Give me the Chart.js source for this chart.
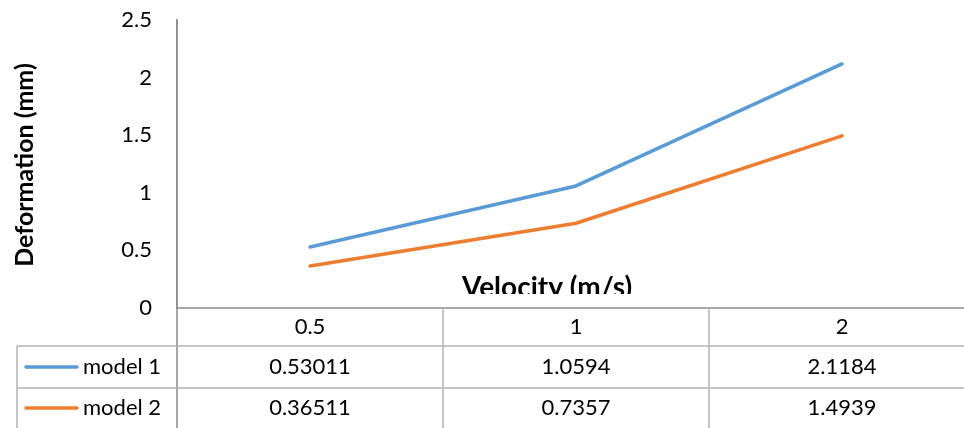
<!DOCTYPE html>
<html>
<head>
<meta charset="utf-8">
<script src="https://cdn.jsdelivr.net/npm/chart.js@4"></script>
<style>
  html, body { margin: 0; padding: 0; background: #fff; }
  #wrap { width: 964px; height: 428px; }
</style>
</head>
<body>
<div id="wrap"><canvas id="chart"></canvas></div>
<script>
// data
const velocities = ['0.5', '1', '2'];
const model1 = [0.53011, 1.0594, 2.1184];
const model2 = [0.36511, 0.7357, 1.4939];
const seriesNames = ['model 1', 'model 2'];
const yTicks = [0, 0.5, 1, 1.5, 2, 2.5];

const COLORS = { blue: '#5B9BD5', orange: '#ED7D31', axis: '#8C8C8C', grid: '#B4B4B4', text: '#000000' };
const FONT = 'Lato, "Open Sans", sans-serif';

// titles + data table below the plot, like Excel's "data table" option
const dataTable = {
  id: 'dataTable',
  afterDraw(chart) {
    const { ctx, chartArea, scales } = chart;
    const x = scales.x;
    const W = chart.width, H = chart.height;
    const top = chartArea.bottom;
    const rowH = [38, 42, 40];
    const r1 = top + rowH[0], r2 = r1 + rowH[1];
    const leftCol = 17;
    const cols = [x.getPixelForValue(-0.5), x.getPixelForValue(0.5), x.getPixelForValue(1.5)];

    ctx.save();

    // x axis title, cut off by the table like in the original
    ctx.save();
    ctx.beginPath();
    ctx.rect(0, 0, W, top - 14);
    ctx.clip();
    ctx.font = 'bold 28px ' + FONT;
    ctx.fillStyle = COLORS.text;
    ctx.textAlign = 'center';
    ctx.textBaseline = 'alphabetic';
    ctx.fillText('Velocity (m/s)', 547, top - 11);
    ctx.restore();

    // y axis title
    ctx.save();
    ctx.translate(33, 165);
    ctx.rotate(-Math.PI / 2);
    ctx.font = 'bold 25px ' + FONT;
    ctx.fillStyle = COLORS.text;
    ctx.textAlign = 'center';
    ctx.textBaseline = 'alphabetic';
    ctx.fillText('Deformation (mm)', 0, 0);
    ctx.restore();

    // table lines
    ctx.lineWidth = 1.5;
    ctx.strokeStyle = COLORS.axis;
    ctx.beginPath();
    ctx.moveTo(cols[0], top); ctx.lineTo(W, top);
    ctx.moveTo(cols[0], chartArea.top); ctx.lineTo(cols[0], H);
    ctx.stroke();

    ctx.strokeStyle = COLORS.grid;
    ctx.beginPath();
    ctx.moveTo(leftCol, r1); ctx.lineTo(W, r1);
    ctx.moveTo(leftCol, r2); ctx.lineTo(W, r2);
    ctx.moveTo(leftCol, r1); ctx.lineTo(leftCol, H);
    ctx.moveTo(cols[1], top); ctx.lineTo(cols[1], H);
    ctx.moveTo(cols[2], top); ctx.lineTo(cols[2], H);
    ctx.stroke();

    // cells
    ctx.font = '22px ' + FONT;
    ctx.fillStyle = COLORS.text;
    ctx.textBaseline = 'middle';
    ctx.textAlign = 'center';
    const rowMid = [top + rowH[0] / 2, r1 + rowH[1] / 2, r2 + rowH[2] / 2];
    velocities.forEach((v, i) => ctx.fillText(v, x.getPixelForValue(i), rowMid[0]));
    [model1, model2].forEach((vals, r) => {
      vals.forEach((v, i) => ctx.fillText(String(v), x.getPixelForValue(i), rowMid[r + 1]));
    });

    // legend keys in the first column
    chart.data.datasets.forEach((ds, r) => {
      const y = rowMid[r + 1];
      ctx.strokeStyle = ds.borderColor;
      ctx.lineWidth = 3.5;
      ctx.lineCap = 'round';
      ctx.beginPath();
      ctx.moveTo(26, y); ctx.lineTo(77, y);
      ctx.stroke();
      ctx.textAlign = 'left';
      ctx.fillText(seriesNames[r], 83, y);
    });

    ctx.restore();
  }
};

new Chart(document.getElementById('chart'), {
  type: 'line',
  data: {
    datasets: [
      { label: seriesNames[0], data: model1.map((v, i) => ({ x: i, y: v })), borderColor: COLORS.blue, backgroundColor: COLORS.blue },
      { label: seriesNames[1], data: model2.map((v, i) => ({ x: i, y: v })), borderColor: COLORS.orange, backgroundColor: COLORS.orange }
    ]
  },
  options: {
    responsive: true,
    maintainAspectRatio: false,
    animation: false,
    layout: { padding: { top: 20, bottom: 120, left: 0, right: 0 } },
    elements: {
      line: { borderWidth: 3.5, tension: 0, borderCapStyle: 'round', borderJoinStyle: 'round' },
      point: { radius: 0, hoverRadius: 0 }
    },
    plugins: { legend: { display: false }, tooltip: { enabled: false } },
    scales: {
      x: { type: 'linear', display: false, min: -0.5, max: 2.4586 },
      y: {
        min: 0, max: 2.5,
        afterBuildTicks: s => { s.ticks = yTicks.map(v => ({ value: v })); },
        // tick padding would otherwise push the plot top down
        afterFit: s => { s.width = 177; s.paddingTop = 0; s.paddingBottom = 0; },
        grid: { display: false, drawTicks: false },
        border: { display: true, color: COLORS.axis, width: 1.5 },
        ticks: {
          padding: 25,
          color: COLORS.text,
          font: { family: FONT, size: 22 },
          callback: v => String(v)
        }
      }
    }
  },
  plugins: [dataTable]
});
</script>
</body>
</html>
